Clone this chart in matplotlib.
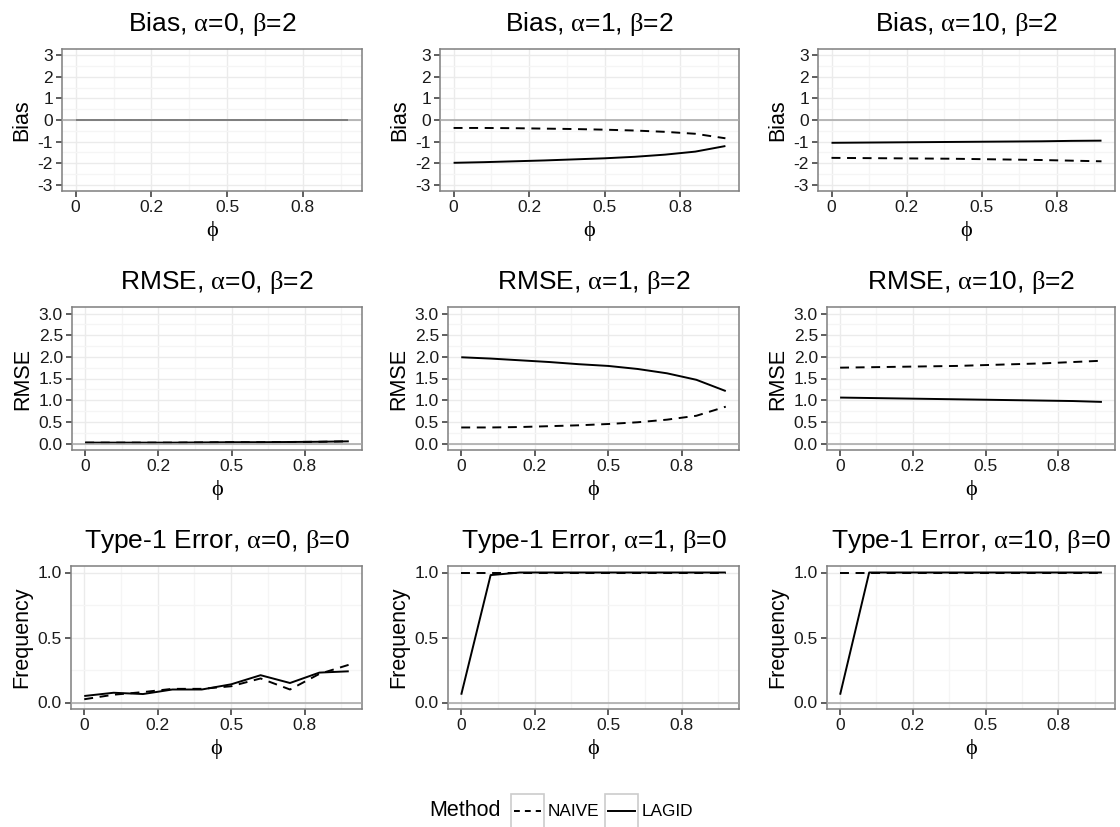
import matplotlib
matplotlib.use("Agg")
import matplotlib.pyplot as plt
from matplotlib.patches import Rectangle
from matplotlib.lines import Line2D

plt.rcParams['font.family'] = ['Liberation Sans', 'DejaVu Sans']
plt.rcParams['mathtext.fontset'] = 'custom'
plt.rcParams['mathtext.rm'] = 'Liberation Serif'
plt.rcParams['mathtext.it'] = 'Liberation Serif'

# ---------------- data ----------------
phi = [0.0, 0.1, 0.2, 0.3, 0.4, 0.5, 0.6, 0.7, 0.8, 0.9]
alphas = ["0", "1", "10"]

bias_naive_a0 = [0.0, 0.0, 0.0, 0.0, 0.0, 0.0, 0.0, 0.0, 0.0, 0.0]
bias_lagid_a0 = [0.0, 0.0, 0.0, 0.0, 0.0, 0.0, 0.0, 0.0, 0.0, 0.0]
bias_naive_a1 = [-0.37, -0.37, -0.38, -0.40, -0.42, -0.45, -0.49, -0.55, -0.64, -0.85]
bias_lagid_a1 = [-1.99, -1.96, -1.92, -1.88, -1.83, -1.78, -1.71, -1.61, -1.47, -1.21]
bias_naive_a10 = [-1.76, -1.77, -1.78, -1.79, -1.80, -1.82, -1.84, -1.86, -1.89, -1.92]
bias_lagid_a10 = [-1.06, -1.05, -1.04, -1.03, -1.02, -1.01, -1.00, -0.99, -0.97, -0.96]

rmse_naive_a0 = [0.02, 0.02, 0.02, 0.02, 0.025, 0.03, 0.03, 0.035, 0.04, 0.05]
rmse_lagid_a0 = [0.02, 0.02, 0.02, 0.02, 0.025, 0.03, 0.03, 0.035, 0.04, 0.05]
rmse_naive_a1 = [0.37, 0.37, 0.38, 0.40, 0.42, 0.45, 0.49, 0.55, 0.64, 0.85]
rmse_lagid_a1 = [1.99, 1.96, 1.92, 1.88, 1.83, 1.79, 1.72, 1.62, 1.47, 1.21]
rmse_naive_a10 = [1.75, 1.76, 1.77, 1.78, 1.79, 1.81, 1.83, 1.85, 1.88, 1.91]
rmse_lagid_a10 = [1.06, 1.05, 1.04, 1.03, 1.02, 1.01, 1.00, 0.99, 0.98, 0.96]

t1_naive_a0 = [0.025, 0.06, 0.08, 0.105, 0.105, 0.125, 0.185, 0.10, 0.22, 0.29]
t1_lagid_a0 = [0.05, 0.075, 0.065, 0.10, 0.10, 0.14, 0.21, 0.15, 0.23, 0.24]
t1_naive_a1 = [1.0, 1.0, 1.0, 1.0, 1.0, 1.0, 1.0, 1.0, 1.0, 1.0]
t1_lagid_a1 = [0.06, 0.98, 1.0, 1.0, 1.0, 1.0, 1.0, 1.0, 1.0, 1.0]
t1_naive_a10 = [1.0, 1.0, 1.0, 1.0, 1.0, 1.0, 1.0, 1.0, 1.0, 1.0]
t1_lagid_a10 = [0.06, 1.0, 1.0, 1.0, 1.0, 1.0, 1.0, 1.0, 1.0, 1.0]

x_ticks = [0.0, 0.25, 0.5, 0.75]
x_ticklabels = ["0", "0.2", "0.5", "0.8"]
x_minor = [0.125, 0.375, 0.625, 0.875]

bias_ticks = [-3, -2, -1, 0, 1, 2, 3]
bias_minor = [-2.5, -1.5, -0.5, 0.5, 1.5, 2.5]
rmse_ticks = [0.0, 0.5, 1.0, 1.5, 2.0, 2.5, 3.0]
rmse_minor = [0.25, 0.75, 1.25, 1.75, 2.25, 2.75]
freq_ticks = [0.0, 0.5, 1.0]
freq_minor = [0.25, 0.75]

methods = ["NAIVE", "LAGID"]

rows = [
    dict(kind="Bias", beta="2", ylabel="Bias", ylim=(-3.3, 3.3), ticks=bias_ticks,
         labels=[str(t) for t in bias_ticks], minor=bias_minor,
         series=[(bias_naive_a0, bias_lagid_a0), (bias_naive_a1, bias_lagid_a1),
                 (bias_naive_a10, bias_lagid_a10)]),
    dict(kind="RMSE", beta="2", ylabel="RMSE", ylim=(-0.15, 3.15), ticks=rmse_ticks,
         labels=["%.1f" % t for t in rmse_ticks], minor=rmse_minor,
         series=[(rmse_naive_a0, rmse_lagid_a0), (rmse_naive_a1, rmse_lagid_a1),
                 (rmse_naive_a10, rmse_lagid_a10)]),
    dict(kind="Type-1 Error", beta="0", ylabel="Frequency", ylim=(-0.05, 1.05), ticks=freq_ticks,
         labels=["%.1f" % t for t in freq_ticks], minor=freq_minor,
         series=[(t1_naive_a0, t1_lagid_a0), (t1_naive_a1, t1_lagid_a1),
                 (t1_naive_a10, t1_lagid_a10)]),
]

# ---------------- layout ----------------
W, H = 1120, 827
fig = plt.figure(figsize=(W / 100, H / 100), dpi=100)

row_tb = [(49, 191), (307, 450), (566, 709)]
col_lr = [
    [(62, 362), (440, 739), (818, 1115)],
    [(72, 362), (448, 739), (827, 1115)],
    [(71, 362), (448, 739), (827, 1115)],
]

dash = (0, (4.6, 3.4))
LW = 1.4

for r, row in enumerate(rows):
    top, bot = row_tb[r]
    for c in range(3):
        l, rr = col_lr[r][c]
        ax = fig.add_axes([l / W, 1 - bot / H, (rr - l) / W, (bot - top) / H])
        naive, lagid = row["series"][c]
        ax.plot(phi, lagid, color="black", lw=LW, solid_capstyle="butt", zorder=3)
        ax.plot(phi, naive, color="black", lw=LW, linestyle=dash, zorder=3)
        ax.axhline(0, color="#a6a6a6", lw=1.1, zorder=4)
        ax.set_xlim(-0.045, 0.945)
        ax.set_ylim(*row["ylim"])
        ax.set_xticks(x_ticks)
        ax.set_xticklabels(x_ticklabels)
        ax.set_xticks(x_minor, minor=True)
        ax.set_yticks(row["ticks"])
        ax.set_yticklabels(row["labels"])
        ax.set_yticks(row["minor"], minor=True)
        ax.grid(which="major", color="#ebebeb", lw=1.0, zorder=0)
        ax.grid(which="minor", color="#f5f5f5", lw=1.0, zorder=0)
        ax.set_axisbelow(True)
        ax.tick_params(which="major", length=4, width=1.1, color="#333333",
                       labelsize=12.5, labelcolor="#1a1a1a", pad=2.5)
        ax.tick_params(which="minor", length=0)
        for s in ax.spines.values():
            s.set_color("#7f7f7f")
            s.set_linewidth(1.1)
        ax.set_title("%s, $\\mathrm{\u03b1}$=%s, $\\mathrm{\u03b2}$=%s" % (row["kind"], alphas[c], row["beta"]),
                     fontsize=19, pad=13)
        ax.set_xlabel("$\\mathrm{\u03d5}$", fontsize=16, labelpad=3)
        ax.set_ylabel(row["ylabel"], fontsize=15.5, labelpad=4)

# ---------------- legend ----------------
leg = fig.add_axes([0, 0, 1, 1], facecolor="none")
leg.set_xlim(0, W)
leg.set_ylim(H, 0)
leg.axis("off")
yc = 811
leg.text(429, yc, "Method", fontsize=15.5, va="center", ha="left")
key_x = [511, 605]
for kx, m, ls in zip(key_x, methods, [(0, (3.0, 2.6)), "-"]):
    leg.add_patch(Rectangle((kx, yc - 17), 33, 34, facecolor="white", edgecolor="#cccccc", lw=1.2))
    leg.add_line(Line2D([kx + 3, kx + 30], [yc, yc], color="black", lw=LW, linestyle=ls))
    leg.text(kx + 37, yc, m, fontsize=12.4, va="center", ha="left")

fig.savefig("out.png", dpi=100)
